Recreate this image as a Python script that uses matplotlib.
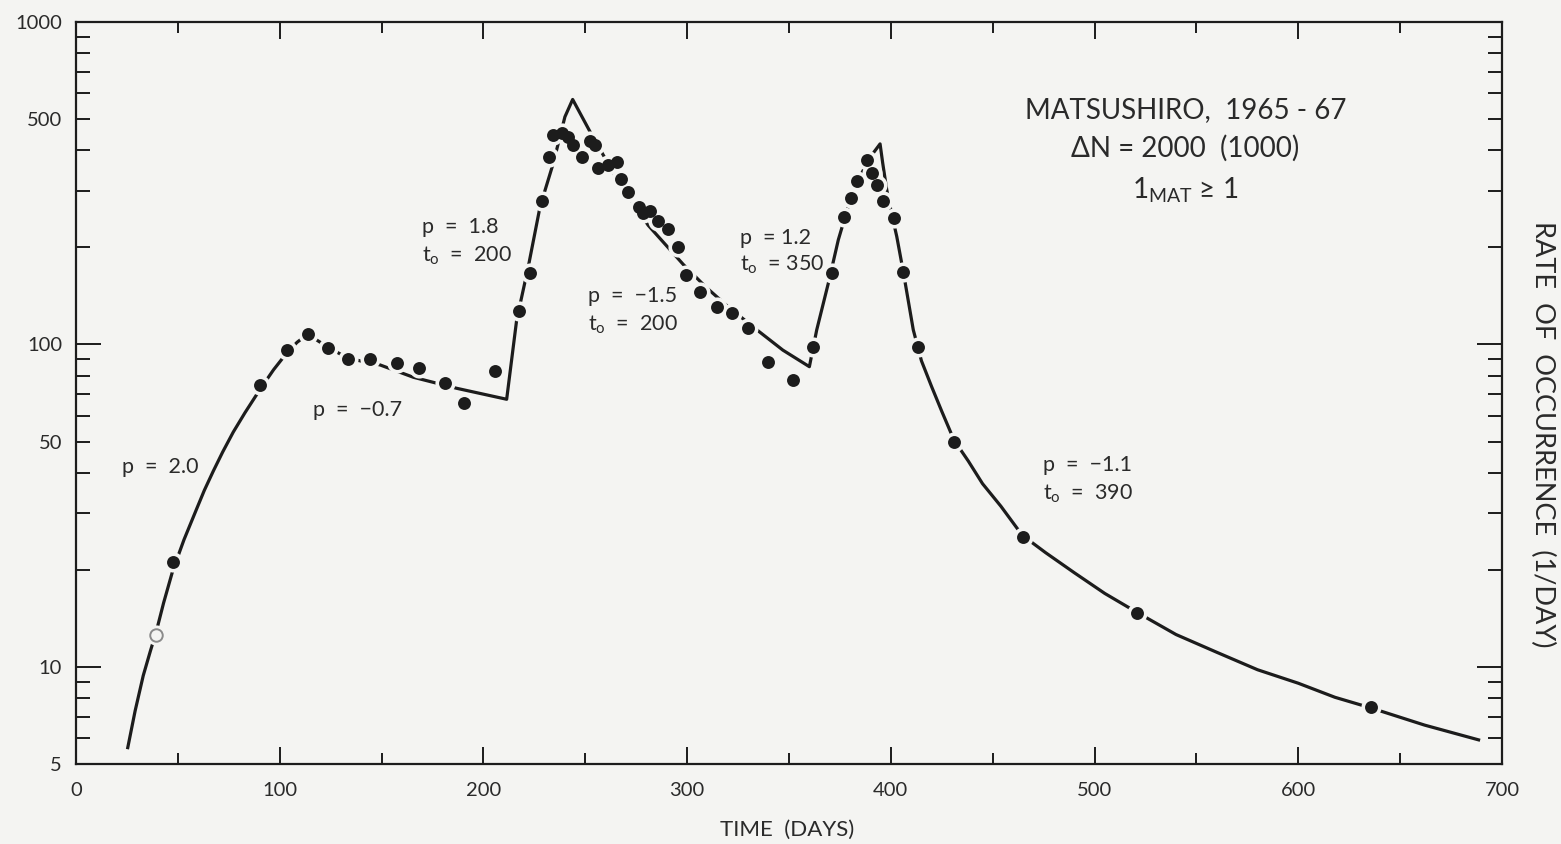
import matplotlib
matplotlib.use("Agg")
import matplotlib.pyplot as plt
from matplotlib.ticker import FixedLocator, FuncFormatter

plt.rcParams['font.family'] = ['Lato', 'DejaVu Sans']
plt.rcParams['mathtext.default'] = 'regular'

BG = '#f4f4f2'
INK = '#1c1c1c'

# observed daily rates (filled dots)
days = [47.5, 90.3, 103.4, 113.7, 123.9, 133.7, 144.3, 157.4, 168.5, 181.2,
        190.6, 205.7, 217.4, 222.9, 228.6, 232.4, 234.3, 238.4, 241.7, 244.1,
        248.3, 252.3, 254.8, 256.4, 261.3, 265.4, 267.5, 271.1, 276.5, 278.5,
        281.8, 285.9, 290.8, 295.7, 299.6, 306.3, 314.5, 321.9, 330.1, 339.9,
        352.2, 361.6, 371.0, 377.0, 380.5, 383.3, 388.2, 390.9, 393.1, 396.3,
        401.7, 406.1, 413.5, 431.0, 464.7, 520.6, 635.7]
rate = [21.1, 74.9, 96.1, 107.6, 97.8, 89.9, 89.9, 87.8, 84.8, 76.1,
        65.7, 82.9, 127, 167, 279, 380, 446, 452, 441, 416,
        382, 426, 416, 352, 360, 369, 325, 298, 266, 255,
        259, 241.5, 227.6, 200, 164, 145.8, 131, 124.9, 112.2, 88.5,
        77.6, 98.5, 167, 248, 284, 322, 372, 341, 312, 279,
        246, 168, 98.5, 49.9, 25.2, 14.7, 7.53]

# open circle
days_open = [39.3]
rate_open = [12.6]

# piecewise model curve (p = 2.0 / -0.7 / 1.8 / -1.5 / 1.2 / -1.1)
curve_days = [25.4, 29.0, 33.0, 36.5, 39.3, 43.0, 47.5, 53.0, 59.3, 63.0, 67.4,
              72.0, 77.2, 83.0, 90.3, 97.0, 103.4, 108.5, 113.7,
              123.9, 133.7, 149.2, 165.6, 186.9, 211.4,
              216.3, 222.0, 227.8, 234.3, 240.0, 243.8,
              252.3, 265.0, 280.9, 298.1, 309.0, 320.0, 335.0, 347.0, 360.0,
              363.6, 369.3, 374.2, 380.0, 385.7, 390.0, 394.7,
              396.0, 398.0, 400.5, 402.9, 406.1, 411.0, 415.0, 420.0, 425.0,
              431.0, 438.0, 445.0, 454.0, 464.5, 476.0, 490.0, 505.0, 520.5,
              540.0, 560.0, 580.0, 600.0, 618.0, 636.0, 662.0, 688.5]
curve_rate = [5.62, 7.3, 9.4, 11.2, 12.8, 15.8, 19.9, 24.8, 31.0, 35.3, 40.5,
              46.4, 53.5, 61.5, 72.5, 83.5, 94.0, 101.5, 107.6,
              97.8, 90.5, 86.4, 79.1, 73.1, 67.6,
              119, 174, 267.5, 365, 508, 575,
              457, 330, 234, 177, 151, 131, 110, 96, 85.3,
              110.9, 154.8, 211, 280.6, 339.8, 382, 418.6,
              365, 301, 252, 216, 168, 111, 89, 74, 62,
              50.5, 43.5, 37, 31.5, 25.6, 22.6, 19.6, 16.9, 14.8,
              12.6, 11.1, 9.8, 8.9, 8.05, 7.45, 6.6, 5.94]

fig = plt.figure(figsize=(15.61, 8.44), dpi=100, facecolor=BG)
ax = fig.add_axes([0.0487, 0.0948, 0.9135, 0.8792], facecolor=BG)

ax.plot(curve_days, curve_rate, color=INK, lw=2.3, zorder=2)
# background halo so the curve breaks around each dot
ax.plot(days, rate, 'o', ms=14.5, color=BG, mec='none', zorder=3)
ax.plot(days_open, rate_open, 'o', ms=14.5, color=BG, mec='none', zorder=3)
ax.plot(days, rate, 'o', ms=9.3, color=INK, mec='none', zorder=4)
ax.plot(days_open, rate_open, 'o', ms=9, mfc=BG, mec='#8a8a8a', mew=1.4, zorder=4)

ax.set_yscale('log')
ax.set_xlim(0, 700)
ax.set_ylim(5, 1000)

ax.xaxis.set_major_locator(FixedLocator([0, 100, 200, 300, 400, 500, 600, 700]))
ax.xaxis.set_minor_locator(FixedLocator([50, 150, 250, 350, 450, 550, 650]))
ax.yaxis.set_major_locator(FixedLocator([10, 100, 1000]))
ax.yaxis.set_major_formatter(FuncFormatter(lambda v, pos: '%d' % v))
minor_y = [m * d for d in (1, 10, 100) for m in range(2, 10) if 5 <= m * d < 1000]
ax.yaxis.set_minor_locator(FixedLocator(minor_y))
ax.yaxis.set_minor_formatter(FuncFormatter(
    lambda v, pos: '%d' % v if round(v) in (5, 50, 500) else ''))

ax.tick_params(which='both', direction='in', top=True, right=True,
               color=INK, width=1.4, labelsize=14.5, labelcolor='#2a2a2a')
ax.tick_params(axis='x', which='major', length=12, pad=13)
ax.tick_params(axis='x', which='minor', length=8)
ax.tick_params(axis='y', which='major', length=18, pad=10)
ax.tick_params(axis='y', which='minor', length=10, pad=10)
for s in ax.spines.values():
    s.set_linewidth(1.6)
    s.set_color(INK)

fs = 15.5
tc = '#2a2a2a'
ax.text(22.6, 41.7, 'p  =  2.0', fontsize=fs, color=tc, va='center')
ax.text(116.3, 62.7, 'p  =  \u22120.7', fontsize=fs, color=tc, va='center')
ax.text(170, 208, 'p  =  1.8\nt$_o$  =  200', fontsize=fs, color=tc, va='center',
        linespacing=1.45)
ax.text(251.4, 127, 'p  =  \u22121.5\nt$_o$  =  200', fontsize=fs, color=tc,
        va='center', linespacing=1.45)
ax.text(326, 193.6, 'p  = 1.2\nt$_o$  = 350', fontsize=fs, color=tc, va='center',
        linespacing=1.3)
ax.text(474.7, 38, 'p  =  \u22121.1\nt$_o$  =  390', fontsize=fs, color=tc,
        va='center', linespacing=1.45)

ax.text(0.778, 0.881, 'MATSUSHIRO,  1965 - 67', transform=ax.transAxes,
        fontsize=20, color=tc, ha='center', va='center')
ax.text(0.778, 0.830, '\u0394N = 2000  (1000)', transform=ax.transAxes,
        fontsize=20, color=tc, ha='center', va='center')
ax.text(0.778, 0.773, '1$_{MAT}$ \u2265 1', transform=ax.transAxes,
        fontsize=20, color=tc, ha='center', va='center')

fig.text(0.504, 0.017, 'TIME  (DAYS)', fontsize=16, color=tc, ha='center', va='center')
fig.text(0.988, 0.485, 'RATE  OF  OCCURRENCE  (1/DAY)', fontsize=19.5, color=tc,
         ha='center', va='center', rotation=-90)

fig.savefig('out.png', dpi=100, facecolor=BG)
